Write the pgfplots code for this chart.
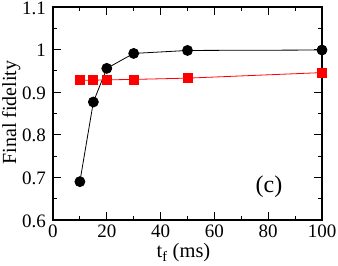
\documentclass[border=0pt]{standalone}
\usepackage{fontspec}
\setmainfont{Liberation Serif}
\usepackage{pgfplots}
\pgfplotsset{compat=1.18}
\begin{document}
\fontsize{19bp}{22bp}\selectfont
\begin{tikzpicture}
\begin{axis}[
  at={(0,0)}, anchor=south west,
  scale only axis,
  width=269bp, height=213bp,
  xmin=0, xmax=100, ymin=0.6, ymax=1.1,
  xtick={0,20,...,100},
  ytick={0.6,0.7,...,1.1},
  yticklabels={0.6,0.7,0.8,0.9,1,\raisebox{-4.5bp}{1.1}},
  minor x tick num=1, minor y tick num=1,
  tick align=inside,
  major tick length=8bp, minor tick length=4bp,
  axis line style={line width=1.1bp},
  every tick/.style={black, line width=0.9bp},
  /pgf/number format/assume math mode=true,
  tick label style={font=\fontsize{19bp}{22bp}\selectfont},
  xticklabel style={inner sep=0pt, anchor=north, yshift=-5bp},
  yticklabel style={inner sep=0pt, anchor=east, xshift=-7bp, yshift=-1bp},
  xlabel={t\textsubscript{f} (ms)},
  ylabel={Final fidelity},
  xlabel style={font=\fontsize{20.5bp}{23bp}\selectfont, inner sep=0pt, at={(axis description cs:0.485,-0.178)}, anchor=base},
  ylabel style={font=\fontsize{20bp}{23bp}\selectfont, inner sep=0pt, at={(axis description cs:-0.190,0.505)}, anchor=north},
  clip=false,
]
\addplot[black, line width=0.8bp, mark=*, mark size=5bp, mark options={fill=black}]
  coordinates {(10,0.690) (15,0.877) (20,0.956) (30,0.991) (50,0.998) (100,0.999)};
\addplot[red, line width=0.8bp, mark=square*, mark size=4.5bp, mark options={fill=red}]
  coordinates {(10,0.928) (15,0.928) (20,0.929) (30,0.930) (50,0.933) (100,0.946)};
\node[font=\fontsize{24bp}{26bp}\selectfont, inner sep=0pt] at (axis cs:80.3,0.678) {(c)};
\end{axis}
\pgfresetboundingbox
\path (-53bp,-46bp) rectangle (285bp,220bp);
\end{tikzpicture}
\end{document}
